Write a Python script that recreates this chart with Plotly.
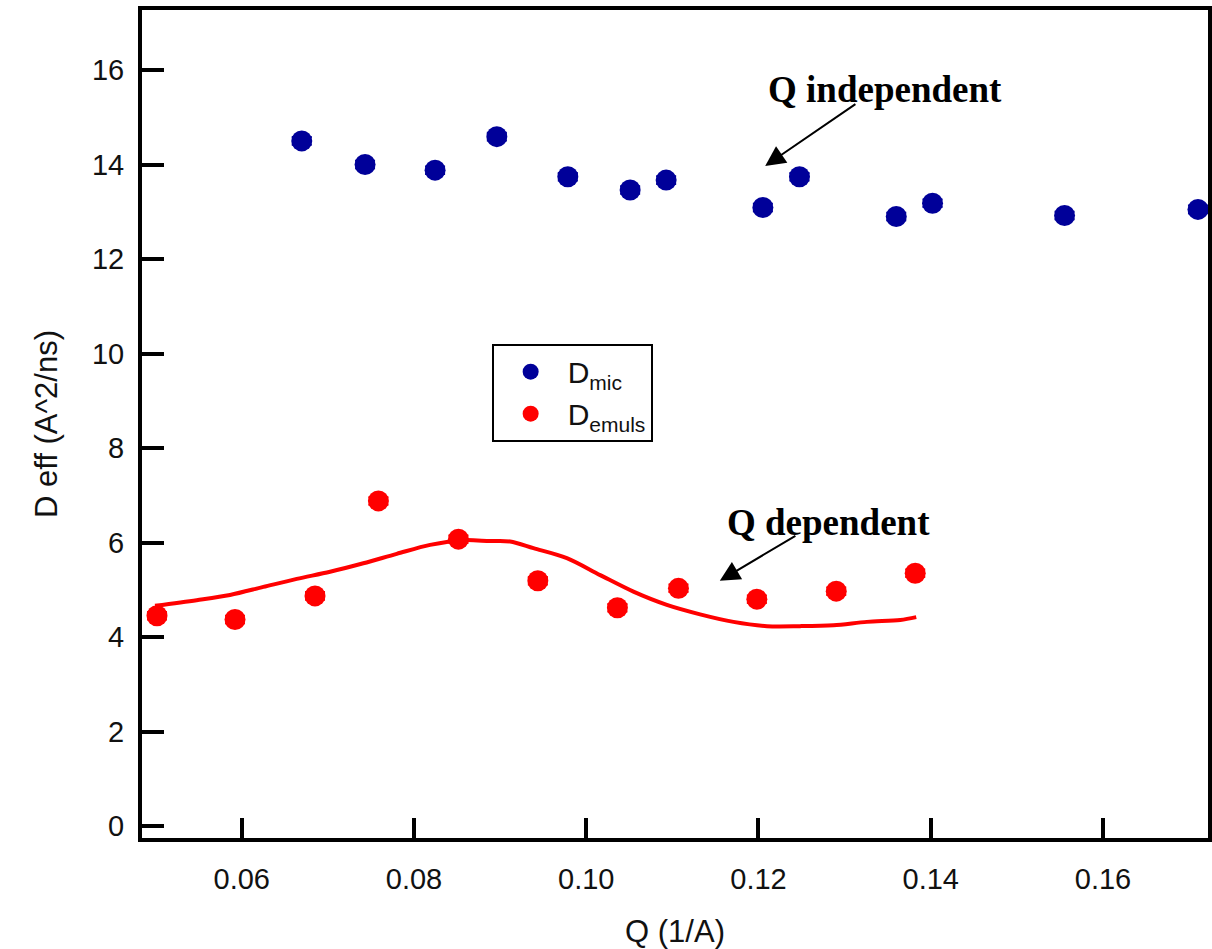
import plotly.graph_objects as go

# ---- data ----
q_mic = [0.06697, 0.07432, 0.08245, 0.08962, 0.09786, 0.10510, 0.10928,
         0.12051, 0.12476, 0.13600, 0.14021, 0.15554, 0.17103]
d_mic = [14.50, 14.00, 13.88, 14.59, 13.74, 13.46, 13.67,
         13.09, 13.74, 12.90, 13.18, 12.92, 13.05]
err_mic = [0.08] * len(q_mic)

q_emuls = [0.05016, 0.05922, 0.06851, 0.07587, 0.08516, 0.09438,
           0.10362, 0.11071, 0.11981, 0.12903, 0.13820]
d_emuls = [4.45, 4.37, 4.87, 6.88, 6.07, 5.19, 4.62, 5.03, 4.80, 4.97, 5.35]
err_emuls = [0.08] * len(q_emuls)

q_fit = [0.04993, 0.05477, 0.05864, 0.06251, 0.06639, 0.07026, 0.07412,
         0.07800, 0.08187, 0.08574, 0.08884, 0.09116, 0.09387, 0.09775,
         0.10162, 0.10548, 0.10936, 0.11322, 0.11710, 0.12098, 0.12485,
         0.12871, 0.13259, 0.13646, 0.13832]
d_fit = [4.66, 4.78, 4.89, 5.06, 5.23, 5.38, 5.56, 5.76, 5.95, 6.05, 6.03,
         6.02, 5.88, 5.67, 5.31, 4.96, 4.68, 4.48, 4.32, 4.23, 4.23, 4.25,
         4.32, 4.36, 4.42]

x_ticks = [0.06, 0.08, 0.10, 0.12, 0.14, 0.16]
y_ticks = [0, 2, 4, 6, 8, 10, 12, 14, 16]

BLUE = "#000099"
RED = "#ff0000"
SANS = "Arial, Liberation Sans, sans-serif"
SERIF = "Times New Roman, Liberation Serif, serif"

fig = go.Figure()
fig.add_trace(go.Scatter(
    x=q_mic, y=d_mic, mode="markers", name="D<sub>mic</sub>",
    marker=dict(color=BLUE, size=21),
    error_y=dict(type="data", array=err_mic, color=BLUE, thickness=2, width=10),
))
fig.add_trace(go.Scatter(
    x=q_emuls, y=d_emuls, mode="markers", name="D<sub>emuls</sub>",
    marker=dict(color=RED, size=21),
    error_y=dict(type="data", array=err_emuls, color=RED, thickness=2, width=10),
))
fig.add_trace(go.Scatter(
    x=q_fit, y=d_fit, mode="lines", showlegend=False,
    line=dict(color=RED, width=4, shape="spline", smoothing=0.9),
))

axis_common = dict(
    showline=True, linecolor="black", linewidth=4, mirror=True,
    ticks="inside", tickcolor="black", tickwidth=4,
    showgrid=False, zeroline=False,
    tickfont=dict(family=SANS, size=29, color="#111111"),
)

fig.update_xaxes(
    range=[0.048420, 0.172195], tickvals=x_ticks, tickformat=".2f",
    ticklen=20, ticklabelstandoff=12,
    title=dict(text="Q (1/A)", font=dict(family=SANS, size=31, color="#111111"),
               standoff=28),
    **axis_common,
)
fig.update_yaxes(
    range=[-0.254, 17.270], tickvals=y_ticks,
    ticklen=22, ticklabelstandoff=8,
    title=dict(text="D eff (A^2/ns)", font=dict(family=SANS, size=31, color="#111111"),
               standoff=26),
    **axis_common,
)

# annotation texts
fig.add_annotation(x=0.13472, y=15.58, text="<b>Q independent</b>", showarrow=False,
                   font=dict(family=SERIF, size=37, color="black"))
fig.add_annotation(x=0.12810, y=6.43, text="<b>Q dependent</b>", showarrow=False,
                   font=dict(family=SERIF, size=37, color="black"))
# arrows
fig.add_annotation(x=0.12078, y=13.97, ax=0.13143, ay=15.30, axref="x", ayref="y",
                   text="", showarrow=True, arrowhead=2, arrowsize=2,
                   arrowwidth=2, arrowcolor="black")
fig.add_annotation(x=0.11551, y=5.19, ax=0.12446, ay=6.16, axref="x", ayref="y",
                   text="", showarrow=True, arrowhead=2, arrowsize=2,
                   arrowwidth=2, arrowcolor="black")

fig.update_layout(
    width=1212, height=949,
    margin=dict(l=142, r=4, t=10, b=111, autoexpand=False),
    paper_bgcolor="white", plot_bgcolor="white",
    legend=dict(
        x=0.328, y=0.597, xanchor="left", yanchor="top",
        bordercolor="black", borderwidth=2, bgcolor="white",
        font=dict(family=SANS, size=30, color="#111111"),
        itemwidth=64, tracegroupgap=0,
    ),
)

fig.write_html("out.html")
